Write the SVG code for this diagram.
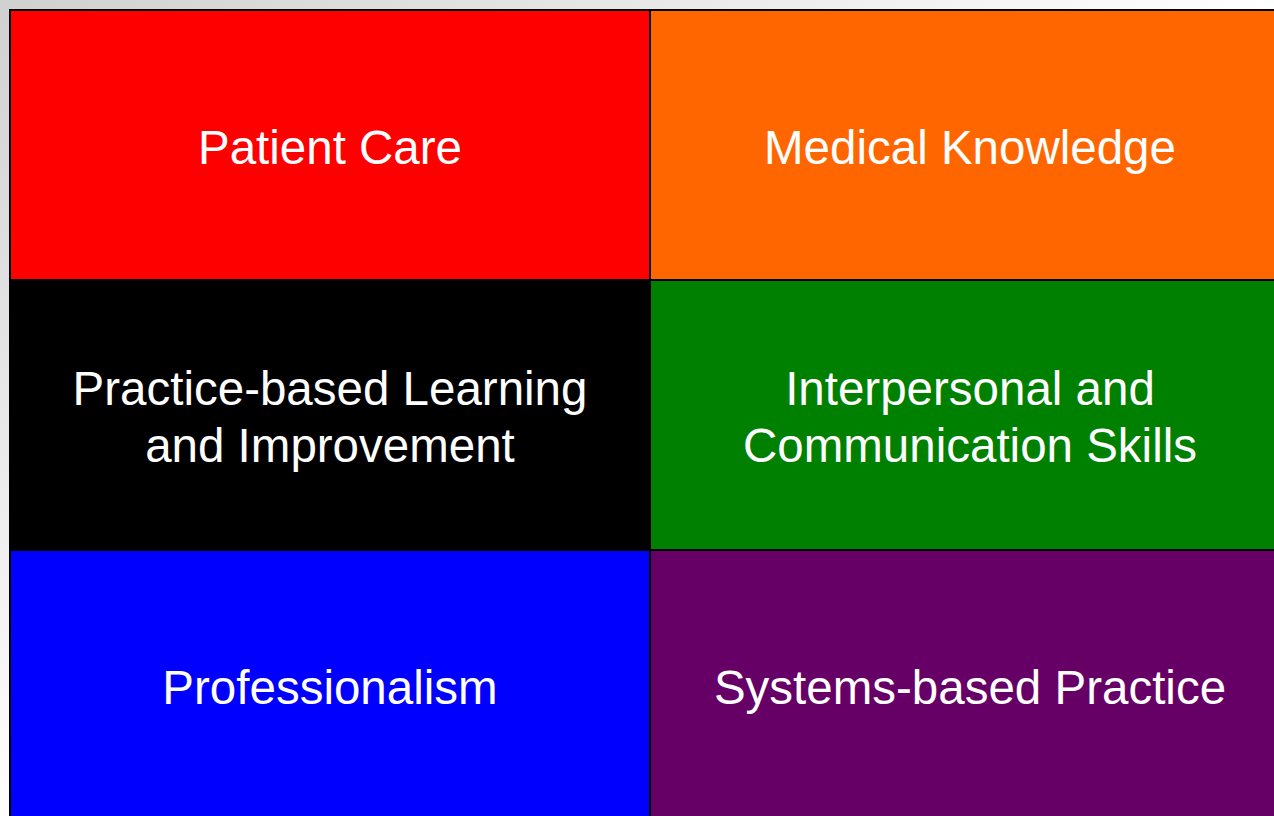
<svg xmlns="http://www.w3.org/2000/svg" width="1274" height="816" viewBox="0 0 1274 816">
<defs>
<linearGradient id="bg" x1="0" y1="0" x2="1" y2="1">
<stop offset="0" stop-color="#d0d0d0"/>
<stop offset="0.5" stop-color="#ffffff"/>
<stop offset="1" stop-color="#ffffff"/>
</linearGradient>
<style>
.cell{stroke:#000;stroke-width:2}
.lbl{font-family:"Liberation Sans",Arial,sans-serif;font-size:47.5px;fill:#fff;text-anchor:middle}
</style>
</defs>
<rect x="0" y="0" width="1274" height="816" fill="url(#bg)"/>
<g id="patient-care"><rect class="cell" x="10" y="10" width="640" height="270" fill="#ff0000"/><text class="lbl" x="330" y="164">Patient Care</text></g>
<g id="medical-knowledge"><rect class="cell" x="650" y="10" width="640" height="270" fill="#ff6600"/><text class="lbl" x="970" y="164">Medical Knowledge</text></g>
<g id="pbli"><rect class="cell" x="10" y="280" width="640" height="270" fill="#000000"/><text class="lbl" x="330" y="405">Practice-based Learning</text><text class="lbl" x="330" y="462">and Improvement</text></g>
<g id="ics"><rect class="cell" x="650" y="280" width="640" height="270" fill="#008000"/><text class="lbl" x="970" y="405">Interpersonal and</text><text class="lbl" x="970" y="462">Communication Skills</text></g>
<g id="professionalism"><rect class="cell" x="10" y="550" width="640" height="280" fill="#0000ff"/><text class="lbl" x="330" y="704">Professionalism</text></g>
<g id="sbp"><rect class="cell" x="650" y="550" width="640" height="280" fill="#660066"/><text class="lbl" x="970" y="704">Systems-based Practice</text></g>
<g id="connectors"/>
</svg>
